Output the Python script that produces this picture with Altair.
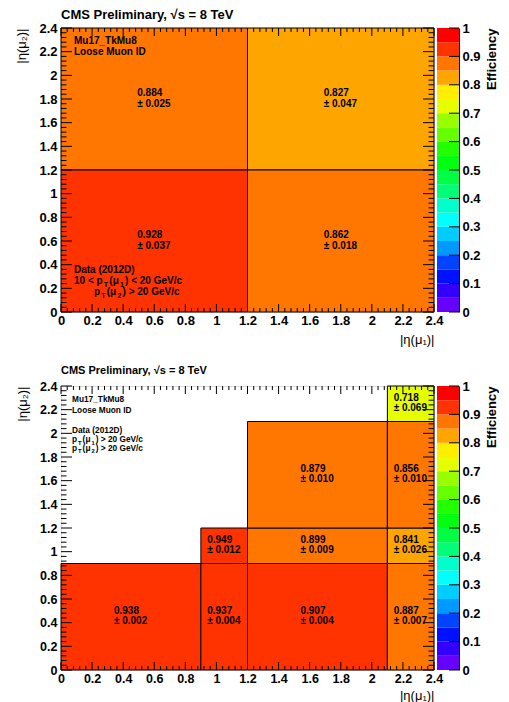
import altair as alt
import pandas as pd

FONT = "Liberation Sans"

# ---------------- data ----------------
# top panel: 10 < pT(mu1) < 20, pT(mu2) > 20
top_x1 = [0.0, 1.2, 0.0, 1.2]
top_x2 = [1.2, 2.4, 1.2, 2.4]
top_y1 = [1.2, 1.2, 0.0, 0.0]
top_y2 = [2.4, 2.4, 1.2, 1.2]
top_eff = [0.884, 0.827, 0.928, 0.862]
top_err = [0.025, 0.047, 0.037, 0.018]

# bottom panel: pT(mu1) > 20, pT(mu2) > 20
bot_x1 = [0.0, 0.9, 1.2, 2.1, 0.9, 1.2, 2.1, 1.2, 2.1, 2.1]
bot_x2 = [0.9, 1.2, 2.1, 2.4, 1.2, 2.1, 2.4, 2.1, 2.4, 2.4]
bot_y1 = [0.0, 0.0, 0.0, 0.0, 0.9, 0.9, 0.9, 1.2, 1.2, 2.1]
bot_y2 = [0.9, 0.9, 0.9, 0.9, 1.2, 1.2, 1.2, 2.1, 2.1, 2.4]
bot_eff = [0.938, 0.937, 0.907, 0.887, 0.949, 0.899, 0.841, 0.879, 0.856, 0.718]
bot_err = [0.002, 0.004, 0.004, 0.007, 0.012, 0.009, 0.026, 0.010, 0.010, 0.069]

eta_ticks = [0, 0.2, 0.4, 0.6, 0.8, 1.0, 1.2, 1.4, 1.6, 1.8, 2.0, 2.2, 2.4]
eta_minor = [round(0.04 * i, 2) for i in range(61) if i % 5]
eff_ticks = [0, 0.1, 0.2, 0.3, 0.4, 0.5, 0.6, 0.7, 0.8, 0.9, 1.0]
bin_edges = [0, 0.05, 0.1, 0.15, 0.2, 0.25, 0.3, 0.35, 0.4, 0.45, 0.5,
             0.55, 0.6, 0.65, 0.7, 0.75, 0.8, 0.85, 0.9, 0.95, 1.0]
palette = ["#6600FF", "#3300FF", "#0011FF", "#0044FF", "#0099FF",
           "#00CCFF", "#00FFFF", "#00FFCC", "#00FF77", "#00FF44",
           "#00FF11", "#22FF00", "#66FF00", "#99FF00", "#E6FF00",
           "#FFEE00", "#FFA500", "#FF7700", "#FF3300", "#FF0000"]

TITLE = "CMS Preliminary, √s = 8 TeV"
top_notes = [
    (13, 16, 10, [("Mu17_TkMu8", False)]),
    (13, 27, 10, [("Loose Muon ID", False)]),
    (13, 244.5, 10, [("Data (2012D)", False)]),
    (13, 255.5, 10, [("10 < p", False), ("T", True), ("(μ", False), ("1", True), (") < 20 GeV/c", False)]),
    (33, 266.5, 10, [("p", False), ("T", True), ("(μ", False), ("2", True), (") > 20 GeV/c", False)]),
]
bot_notes = [
    (11, 16, 8.3, [("Mu17_TkMu8", False)]),
    (11, 26.7, 8.3, [("Loose Muon ID", False)]),
    (11, 47, 8.3, [("Data (2012D)", False)]),
    (11, 56.3, 8.3, [("p", False), ("T", True), ("(μ", False), ("1", True), (") > 20 GeV/c", False)]),
    (11, 65, 8.3, [("p", False), ("T", True), ("(μ", False), ("2", True), (") > 20 GeV/c", False)]),
]

W, H, CB_W = 373, 284, 22

color_scale = alt.Scale(type="threshold", domain=bin_edges[1:-1], range=palette)

W_BOLD = {' ': 278, '(': 333, ')': 333, '<': 584, '>': 584, '/': 278, 'G': 778,
          'e': 556, 'V': 667, 'c': 556, 'p': 611, 'T': 611, 'μ': 611, 'D': 722,
          'a': 556, 't': 333, '_': 556, 'M': 833, 'u': 611, 'k': 556, 'L': 611,
          'o': 611, 's': 556, 'n': 611, 'I': 278}


def seg_width(s, fs):
    return sum(W_BOLD.get(ch, 556) for ch in s) / 1000.0 * fs


def note_layers(notes):
    layers = []
    for x0, yb, fs, segs in notes:
        x = x0
        for s, sub in segs:
            f = fs * 0.7 if sub else fs
            y = yb + (0.3 * fs if sub else 0)
            if sub:
                x += 0.12 * fs
            layers.append(
                alt.Chart(pd.DataFrame({"s": [s]})).mark_text(
                    align="left", baseline="alphabetic", font=FONT,
                    fontSize=f, fontWeight="bold", color="black"
                ).encode(x=alt.value(x), y=alt.value(y), text="s:N")
            )
            x += seg_width(s, f)
            if sub:
                x += 0.12 * fs
    return layers


def panel(x1, x2, y1, y2, eff, err, notes, lab_size, title_size, title_offset, xtitle_pad):
    df = pd.DataFrame(dict(x1=x1, x2=x2, y1=y1, y2=y2, eff=eff, err=err))
    sx = alt.Scale(domain=[0, 2.4], nice=False, zero=False)
    sy = alt.Scale(domain=[0, 2.4], nice=False, zero=False)
    common = dict(values=eta_ticks, format="~g", ticks=False, domain=False, grid=False,
                  labelFont=FONT, labelFontWeight="bold", labelFontSize=lab_size,
                  labelColor="black", labelFlush=False, labelOverlap=False,
                  titleFont=FONT, titleFontWeight="normal", titleFontSize=13,
                  titleColor="black", titleAnchor="end")
    ax = alt.Axis(labelPadding=2, title="|η(μ₁)|", titlePadding=xtitle_pad, **common)
    ay = alt.Axis(labelPadding=4, title="|η(μ₂)|", titlePadding=10, **common)

    def X(f):
        return alt.X(f, type="quantitative", scale=sx, axis=ax)

    def Y(f):
        return alt.Y(f, type="quantitative", scale=sy, axis=ay)

    rects = alt.Chart(df).mark_rect(stroke="black", strokeWidth=1).encode(
        x=X("x1"), x2="x2", y=Y("y1"), y2="y2",
        color=alt.Color("eff:Q", scale=color_scale, legend=None),
    )
    base = alt.Chart(df).transform_calculate(
        xc="(datum.x1 + datum.x2) / 2",
        yc="(datum.y1 + datum.y2) / 2",
        vtxt="format(datum.eff, '.3f')",
        etxt="'± ' + format(datum.err, '.3f')",
    )
    tprops = dict(align="left", baseline="middle", dx=-17, font=FONT, fontSize=10,
                  fontWeight="bold", color="black")
    vtext = base.mark_text(dy=-6, **tprops).encode(x=X("xc"), y=Y("yc"), text="vtxt:N")
    etext = base.mark_text(dy=4.5, **tprops).encode(x=X("xc"), y=Y("yc"), text="etxt:N")

    layers = [rects, vtext, etext]
    for vals, lx, ly in ((eta_ticks, 8, 11), (eta_minor, 4, 5.5)):
        tdf = pd.DataFrame({"t": vals})
        r = alt.Chart(tdf).mark_rule(color="black", strokeWidth=1)
        layers.append(r.encode(x=X("t"), y=alt.value(H), y2=alt.value(H - lx)))
        layers.append(r.encode(x=X("t"), y=alt.value(0), y2=alt.value(lx)))
        layers.append(r.encode(y=Y("t"), x=alt.value(0), x2=alt.value(ly)))
        layers.append(r.encode(y=Y("t"), x=alt.value(W), x2=alt.value(W - ly)))
    layers += note_layers(notes)

    return alt.layer(*layers).properties(
        width=W, height=H,
        title=alt.TitleParams(TITLE, anchor="start", frame="group", font=FONT,
                              fontSize=title_size, fontWeight="bold", color="black",
                              offset=title_offset),
    )


def cbar():
    df = pd.DataFrame({"lo": bin_edges[:-1], "hi": bin_edges[1:]})
    sy = alt.Scale(domain=[0, 1], nice=False, zero=False)
    ay = alt.Axis(orient="right", values=eff_ticks, format="~g", ticks=False, domain=True,
                  domainColor="black", domainWidth=1, grid=False, labelFont=FONT,
                  labelFontWeight="bold", labelFontSize=13, labelColor="black",
                  labelPadding=3, labelFlush=False, labelOverlap=False,
                  title="Efficiency", titleFont=FONT, titleFontWeight="bold",
                  titleFontSize=13, titleColor="black", titleAnchor="end",
                  titleAngle=270, titlePadding=18)
    rects = alt.Chart(df).transform_calculate(mid="(datum.lo + datum.hi) / 2").mark_rect().encode(
        y=alt.Y("lo:Q", scale=sy, axis=ay), y2="hi",
        x=alt.value(0), x2=alt.value(CB_W),
        color=alt.Color("mid:Q", scale=color_scale, legend=None),
    )
    ticks = alt.Chart(pd.DataFrame({"t": eff_ticks})).mark_rule(color="black").encode(
        y=alt.Y("t:Q", scale=sy, axis=ay), x=alt.value(CB_W), x2=alt.value(CB_W - 10)
    )
    return alt.layer(rects, ticks).properties(
        width=CB_W, height=H, view=alt.ViewBackground(stroke=None)
    )


top = panel(top_x1, top_x2, top_y1, top_y2, top_eff, top_err, top_notes, 13, 13, 0, 6)
bot = panel(bot_x1, bot_x2, bot_y1, bot_y2, bot_eff, bot_err, bot_notes, 12.5, 11, 4, 5)

chart = alt.concat(
    top, cbar(), bot, cbar(), columns=2,
    spacing=alt.RowColnumber(row=74, column=3), bounds="flush",
).properties(
    padding={"left": 7, "top": 0, "right": 0, "bottom": 0}
).configure_view(stroke="black", strokeWidth=1).configure(font=FONT)

chart.save("out.html", embed_options={"renderer": "svg", "actions": False})
